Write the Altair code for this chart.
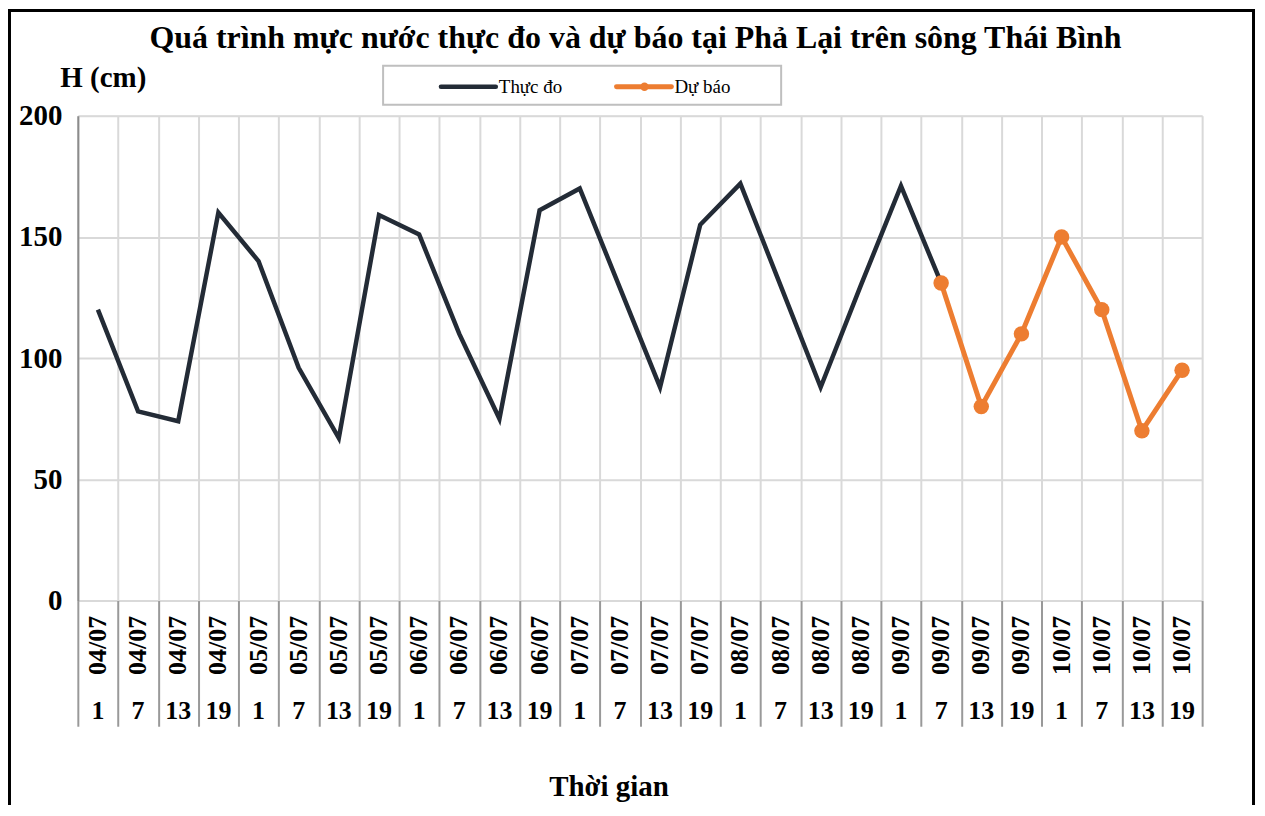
import altair as alt
import pandas as pd

# ---------------- data ----------------
title_text = "Quá trình mực nước thực đo và dự báo tại Phả Lại trên sông Thái Bình"
dates = ["04/07"] * 4 + ["05/07"] * 4 + ["06/07"] * 4 + ["07/07"] * 4 + \
        ["08/07"] * 4 + ["09/07"] * 4 + ["10/07"] * 4
hours = ["1", "7", "13", "19"] * 7
measured = [120, 78, 74, 160, 140, 96, 67, 159, 151, 110, 75, 161,
            170, 129, 88, 155, 172, 130, 88, 130, 171, 131,
            None, None, None, None, None, None]
forecast = [None] * 21 + [131, 80, 110, 150, 120, 70, 95]
series_names = ["Thực đo", "Dự báo"]
series_colors = ["#232b36", "#ed7d31"]
y_ticks = [0, 50, 100, 150, 200]

n = len(dates)
cats = pd.DataFrame({"pos": [i + 0.5 for i in range(n)], "date": dates, "hour": hours})
rows = []
for i in range(n):
    if measured[i] is not None:
        rows.append({"pos": i + 0.5, "series": series_names[0], "value": measured[i]})
    if forecast[i] is not None:
        rows.append({"pos": i + 0.5, "series": series_names[1], "value": forecast[i]})
df = pd.DataFrame(rows)

SERIF = "Liberation Serif"
W, H = 1127, 486

x_scale = alt.Scale(domain=[0, n], nice=False, zero=False)
y_scale = alt.Scale(domain=[0, 200], nice=False)
color_scale = alt.Scale(domain=series_names, range=series_colors)

x_axis = alt.Axis(values=list(range(n + 1)), labels=False, ticks=True, tickSize=126,
                  tickColor="#999999", tickWidth=2, grid=True, gridColor="#d9d9d9",
                  gridWidth=2, domain=False, title="Thời gian", titleX=532, titleY=195,
                  titleAlign="center", titleBaseline="alphabetic", titleFont=SERIF,
                  titleFontSize=29, titleFontWeight="bold", titleColor="black")
y_axis = alt.Axis(values=y_ticks, grid=True, gridColor="#d9d9d9", gridWidth=2, ticks=False,
                  domain=True, domainColor="#8c8c8c", domainWidth=2, labelFont=SERIF,
                  labelFontWeight="bold", labelFontSize=29, labelColor="black", labelPadding=16,
                  title="H (cm)", titleAngle=0, titleX=-18, titleY=-29, titleAlign="left",
                  titleBaseline="alphabetic", titleFont=SERIF, titleFontSize=29,
                  titleFontWeight="bold", titleColor="black")

base = alt.Chart(df).encode(
    x=alt.X("pos:Q", scale=x_scale, axis=x_axis),
    y=alt.Y("value:Q", scale=y_scale, axis=y_axis),
    color=alt.Color("series:N", scale=color_scale, legend=None),
)
meas_line = base.transform_filter(alt.datum.series == series_names[0]).mark_line(strokeWidth=4.5)
fc_line = base.transform_filter(alt.datum.series == series_names[1]).mark_line(strokeWidth=5)
fc_pts = base.transform_filter(alt.datum.series == series_names[1]).mark_point(
    filled=True, size=240, opacity=1)

date_txt = alt.Chart(cats).mark_text(angle=270, font=SERIF, fontWeight="bold", fontSize=26,
                                     color="black", align="center", baseline="middle").encode(
    x=alt.X("pos:Q", scale=x_scale), y=alt.value(531), text="date:N")
hour_txt = alt.Chart(cats).mark_text(font=SERIF, fontWeight="bold", fontSize=26, color="black",
                                     align="center", baseline="middle").encode(
    x=alt.X("pos:Q", scale=x_scale), y=alt.value(597), text="hour:N")

one = alt.Data(values=[{"a": 1}])
title_mark = alt.Chart(one).mark_text(text=title_text, font=SERIF, fontSize=32, fontWeight="bold",
                                      color="black", align="center", baseline="alphabetic").encode(
    x=alt.value(559), y=alt.value(-68))
leg_box = alt.Chart(one).mark_rect(fill="white", stroke="#bfbfbf", strokeWidth=2).encode(
    x=alt.value(306), x2=alt.value(705), y=alt.value(-50), y2=alt.value(-11))
leg_l1 = alt.Chart(one).mark_rule(color=series_colors[0], strokeWidth=4.5, strokeCap="round").encode(
    x=alt.value(364), x2=alt.value(419), y=alt.value(-29))
leg_t1 = alt.Chart(one).mark_text(text=series_names[0], font=SERIF, fontSize=19, color="black",
                                  align="left", baseline="alphabetic").encode(
    x=alt.value(422), y=alt.value(-23))
leg_l2 = alt.Chart(one).mark_rule(color=series_colors[1], strokeWidth=5, strokeCap="round").encode(
    x=alt.value(540), x2=alt.value(595), y=alt.value(-29))
leg_p2 = alt.Chart(one).mark_point(filled=True, size=70, color=series_colors[1], opacity=1).encode(
    x=alt.value(568), y=alt.value(-29))
leg_t2 = alt.Chart(one).mark_text(text=series_names[1], font=SERIF, fontSize=19, color="black",
                                  align="left", baseline="alphabetic").encode(
    x=alt.value(598), y=alt.value(-23))

# outer frame
fr_left = alt.Chart(one).mark_rule(color="black", strokeWidth=3).encode(
    x=alt.value(-68.5), y=alt.value(-105.5), y2=alt.value(710))
fr_top = alt.Chart(one).mark_rule(color="black", strokeWidth=3).encode(
    x=alt.value(-70), x2=alt.value(1180), y=alt.value(-105.5))
fr_right = alt.Chart(one).mark_rule(color="black", strokeWidth=3).encode(
    x=alt.value(1178.5), y=alt.value(-107), y2=alt.value(710))

chart = alt.layer(
    meas_line, fc_line, fc_pts, date_txt, hour_txt, title_mark,
    leg_box, leg_l1, leg_t1, leg_l2, leg_p2, leg_t2,
    fr_left, fr_top, fr_right,
).properties(
    width=W, height=H,
    autosize=alt.AutoSizeParams(type="none"),
    padding={"left": 70, "top": 107, "right": 55, "bottom": 204},
).configure_view(stroke="#8c8c8c", strokeWidth=2).configure(background="white")

chart.save("out.html", embed_options={"renderer": "svg", "actions": False})
